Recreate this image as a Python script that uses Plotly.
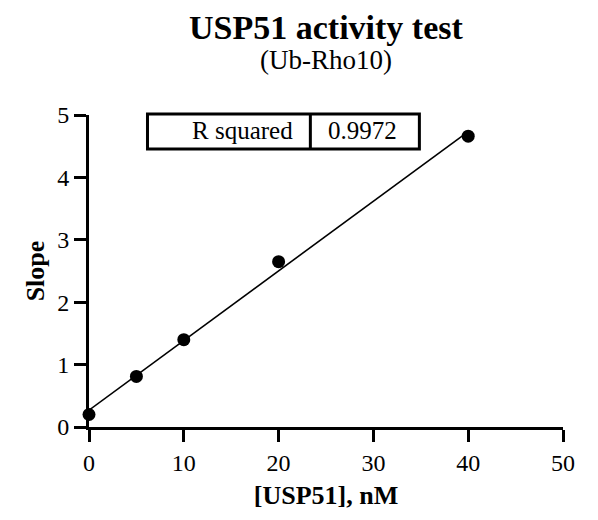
import numpy as np
import plotly.graph_objects as go

# Data
usp51_nM = [0, 5, 10, 20, 40]
slope = [0.2, 0.81, 1.40, 2.65, 4.66]
x_ticks = [0, 10, 20, 30, 40, 50]
y_ticks = [0, 1, 2, 3, 4, 5]
r_squared_label = "R squared"
r_squared_value = "0.9972"

# Linear regression from the data
m, b = np.polyfit(usp51_nM, slope, 1)
fit_x = [min(usp51_nM), max(usp51_nM)]
fit_y = [m * v + b for v in fit_x]

FONT = "Liberation Serif, Times New Roman, serif"

fig = go.Figure()
fig.add_trace(go.Scatter(x=fit_x, y=fit_y, mode="lines",
                         line=dict(color="black", width=1.6),
                         cliponaxis=False, hoverinfo="skip", showlegend=False))
fig.add_trace(go.Scatter(x=usp51_nM, y=slope, mode="markers",
                         marker=dict(color="black", size=13),
                         cliponaxis=False, showlegend=False))

# R squared table box (paper coordinates)
bx0, bx1, by0, by1 = 0.1234, 0.697, 0.891, 1.003
div_x = 0.467
fig.add_shape(type="rect", xref="paper", yref="paper", x0=bx0, x1=bx1, y0=by0, y1=by1,
              line=dict(color="black", width=3), fillcolor="white", layer="above")
fig.add_shape(type="line", xref="paper", yref="paper", x0=div_x, x1=div_x,
              y0=by0, y1=by1, line=dict(color="black", width=3), layer="above")
fig.add_annotation(x=0.4354, y=0.949, xref="paper", yref="paper", text=r_squared_label,
                   showarrow=False, xanchor="right", yanchor="middle",
                   font=dict(family=FONT, size=25, color="black"))
fig.add_annotation(x=0.576, y=0.949, xref="paper", yref="paper", text=r_squared_value,
                   showarrow=False, xanchor="center", yanchor="middle",
                   font=dict(family=FONT, size=25, color="black"))

# Titles
fig.add_annotation(x=0.5, y=1.2816, xref="paper", yref="paper", yanchor="middle",
                   text="<b>USP51 activity test</b>", showarrow=False,
                   font=dict(family=FONT, size=34, color="black"))
fig.add_annotation(x=0.5, y=1.176, xref="paper", yref="paper", yanchor="middle",
                   text="(Ub-Rho10)", showarrow=False,
                   font=dict(family=FONT, size=27, color="black"))

fig.update_layout(
    width=590, height=512,
    margin=dict(l=80.5, r=35.3, t=107, b=92.5),
    paper_bgcolor="white", plot_bgcolor="white",
    font=dict(family=FONT, color="black"),
    showlegend=False,
)

fig.update_xaxes(range=[0, 50], tickvals=x_ticks, ticktext=[str(v) for v in x_ticks],
                 showgrid=False, zeroline=False, showline=True, linecolor="black", linewidth=3,
                 ticks="outside", ticklen=12, tickwidth=3, tickcolor="black",
                 tickfont=dict(family=FONT, size=24, color="black"),
                 title=dict(text="<b>[USP51], nM</b>", font=dict(family=FONT, size=26, color="black"), standoff=12))
fig.update_yaxes(range=[0, 5], tickvals=y_ticks, ticktext=[str(v) for v in y_ticks],
                 showgrid=False, zeroline=False, showline=True, linecolor="black", linewidth=3,
                 ticks="outside", ticklen=12, tickwidth=3, tickcolor="black",
                 tickfont=dict(family=FONT, size=24, color="black"),
                 title=dict(text="<b>Slope</b>", font=dict(family=FONT, size=26, color="black"), standoff=6))

fig.write_html("out.html")
